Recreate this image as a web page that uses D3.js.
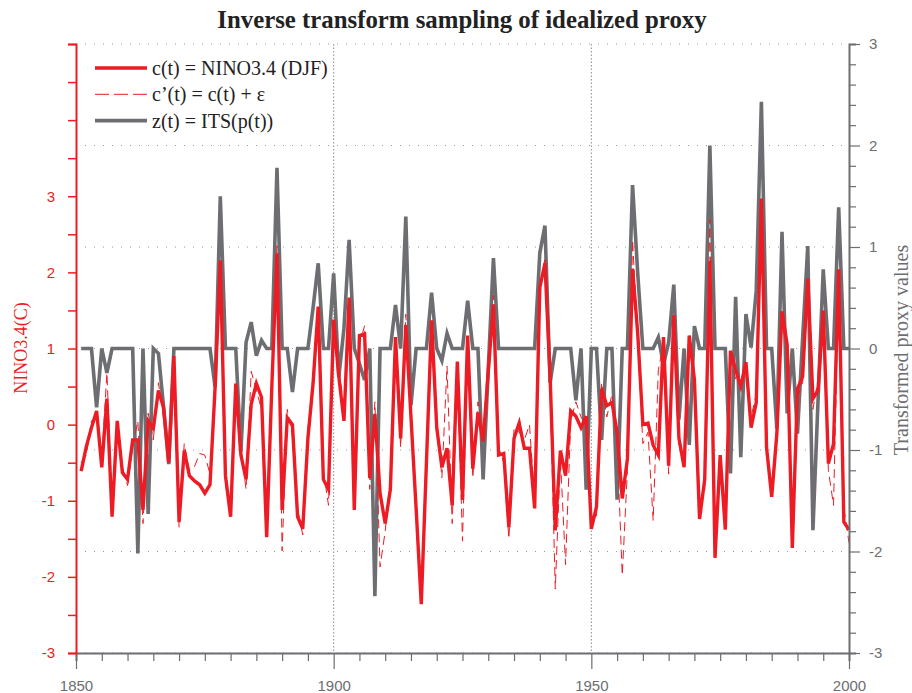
<!DOCTYPE html>
<html>
<head>
<meta charset="utf-8">
<script src="https://cdn.jsdelivr.net/npm/d3@7"></script>
<style>
  body { margin: 0; background: #fff; }
</style>
</head>
<body>
<svg id="chart" width="912" height="693"></svg>
<script>
// Annual values, 1851-2000
const firstYear = 1851;

// c(t): NINO3.4 DJF anomaly (degC)
const ninoDJF = [
  -0.61, -0.29, -0.04, 0.18, -0.56, 0.34, -1.21, 0.05, -0.63, -0.72,
  -0.20, -0.20, -1.12, 0.05, -0.05, 0.45, 0.22, -0.50, 0.90, -1.28,
  -0.34, -0.67, -0.74, -0.79, -0.90, -0.79, 0.50, 2.16, -0.67, -1.21,
  0.54, -0.40, -0.72, 0.27, 0.54, 0.36, -1.48, 0.50, 2.25, -1.12,
  0.09, 0.00, -1.21, -1.37, -0.18, 0.54, 1.55, -0.72, -0.85, 1.38,
  0.63, 0.05, 1.67, -1.12, 1.17, 1.19, -0.70, 0.14, -0.90, -1.30,
  -0.85, 1.15, -0.18, 1.31, 0.10, -1.10, -2.36, -0.50, 1.37, -0.04,
  -0.56, -0.31, -1.06, 0.83, -0.99, 1.17, -0.58, 0.16, -0.22, 0.70,
  1.58, -0.40, -0.38, -1.35, -0.18, 0.02, -0.31, -0.31, -1.10, 1.80,
  2.12, 0.63, -1.39, -0.34, -0.67, 0.18, 0.11, -0.04, 0.11, -1.37,
  -1.08, 0.47, 0.25, 0.29, -0.10, -0.97, -0.45, 2.05, 1.20, 0.00,
  0.02, -0.27, -0.40, 1.15, -0.54, 1.44, -0.18, -0.56, 1.17, 0.59,
  -1.24, -0.72, 2.15, -1.75, -0.40, -1.38, 0.97, 0.72, 0.50, 0.82,
  -0.04, 0.29, 2.97, -0.30, -0.95, -0.12, 1.49, 1.05, -1.62, 0.47,
  0.63, 1.92, 0.34, 0.45, 1.50, -0.51, -0.25, 2.04, -1.28, -1.38
];

// c'(t) = c(t) + noise
const ninoNoisy = [
  -0.50, -0.40, 0.05, 0.10, -0.45, 0.68, -1.05, -0.10, -0.55, -0.80,
  -0.30, 0.05, -1.30, 0.15, -0.20, 0.55, 0.10, -0.40, 0.80, -1.35,
  -0.25, -0.60, -0.55, -0.38, -0.40, -0.65, 0.35, 2.05, -0.80, -1.10,
  0.40, -0.30, -0.85, 0.70, 0.45, 0.20, -1.35, 0.60, 2.35, -1.66,
  0.20, -0.15, -1.10, -1.45, -0.05, 0.45, 1.50, -0.60, -1.06, 1.25,
  0.75, 0.20, 1.55, -1.00, 1.05, 1.30, -0.85, 0.30, -1.87, -1.40,
  -0.70, 1.05, -0.30, 1.45, 0.00, -1.00, -2.25, -0.40, 1.25, 0.10,
  -0.70, 0.77, -1.30, 0.70, -1.53, 1.05, -0.70, 0.30, -0.10, 0.60,
  1.70, -0.30, -0.50, -1.50, -0.05, -0.10, -0.20, 0.00, -1.00, 1.70,
  2.20, 0.50, -2.16, -0.45, -1.84, 0.05, 0.30, 0.10, 0.00, -1.25,
  -1.20, 0.55, 0.10, 0.40, -0.25, -1.98, -0.60, 2.43, 1.10, -0.25,
  -0.10, -1.26, 0.72, 1.05, -0.65, 1.30, -0.30, -0.45, 1.05, 0.70,
  -1.10, -0.85, 2.70, -1.60, -0.55, -1.30, 0.85, 0.60, 0.55, 0.65,
  0.10, 0.40, 2.85, -0.45, -0.80, -0.20, 1.35, 1.00, -1.50, 0.35,
  0.55, 1.75, 0.20, 0.60, 1.40, -0.60, -1.06, 1.95, -1.10, -1.55
];

// z(t) = ITS(p(t)): transformed proxy values
const proxyITS = [
  0, 0, 0, -0.58, 0, -0.24, 0, 0, 0, 0,
  0, -2.02, 0, -1.63, 0, -0.05, -0.58, -1.14, 0, 0,
  0, 0, 0, 0, 0, 0, -0.38, 1.50, 0, 0,
  0, -1.02, 0.06, 0.26, -0.07, 0.08, 0, 0, 1.78, 0,
  0, -0.43, 0, 0, 0, 0.40, 0.84, 0, 0, 0.74,
  -0.28, 0.20, 1.07, 0, -0.15, -0.31, 0, -2.44, 0, 0,
  0, 0.43, 0, 1.30, -0.56, 0, 0, 0, 0.55, 0,
  -0.12, 0.15, 0, 0, 0, 0.47, 0, 0, -1.29, -0.20,
  0.89, 0, 0, 0, 0, 0, 0, 0, 0, 0.94,
  1.21, -0.34, 0, 0, 0, 0, -0.51, 0, -1.39, 0,
  0, -0.90, 0, 0, -1.49, 0, 0, 1.61, 0.74, 0,
  0, 0, 0.11, -0.16, 0.06, 0.63, -0.70, 0, -0.95, 0.22,
  0, 0, 2.00, 0, 0, 0, -1.23, 0.51, -1.07, 0.34,
  0.01, 0.57, 2.43, 0, 0, -0.79, 1.15, -0.64, 0, -0.84,
  0.10, 1.01, -1.79, -0.50, 0.78, 0, 0, 1.39, 0, 0
];

const yearTickLabels = [1850, 1900, 1950, 2000];
const leftTickLabels = [-3, -2, -1, 0, 1, 2, 3];
const rightTickLabels = [-3, -2, -1, 0, 1, 2, 3];
const legendLabels = ["c(t) = NINO3.4 (DJF)", "c\u2019(t) = c(t) + \u03b5", "z(t) = ITS(p(t))"];

// ---- drawing ----
const RED = "#ed1c24";
const GREY = "#6d6e71";
const SERIF = "'Liberation Serif', 'Times New Roman', serif";
const SANS = "'Liberation Sans', Arial, sans-serif";

const svg = d3.select("#chart");
const plotLeft = 76, plotRight = 849, plotTop = 44, plotBottom = 653;

const x = d3.scaleLinear().domain([1850, 2000]).range([plotLeft, plotRight]);
const yL = d3.scaleLinear().domain([-3, 5]).range([plotBottom, plotTop]);
const yR = d3.scaleLinear().domain([-3, 3]).range([plotBottom, plotTop]);

const years = ninoDJF.map((_, i) => firstYear + i);

// grid: horizontal at right-axis integers, vertical at labelled years
const grid = svg.append("g");
grid.selectAll("line.h").data(rightTickLabels).join("line")
  .attr("x1", plotLeft).attr("x2", plotRight)
  .attr("y1", d => yR(d)).attr("y2", d => yR(d))
  .attr("stroke", "#9a9a9a").attr("stroke-width", 1)
  .attr("stroke-dasharray", "1,8");
grid.selectAll("line.v").data(yearTickLabels.slice(1, -1)).join("line")
  .attr("x1", d => x(d)).attr("x2", d => x(d))
  .attr("y1", plotTop).attr("y2", plotBottom)
  .attr("stroke", "#8a8a8a").attr("stroke-width", 1)
  .attr("stroke-dasharray", "1.5,2");

// series
const lineL = vals => d3.line().x((d, i) => x(years[i])).y(d => yL(d))(vals);
const lineR = vals => d3.line().x((d, i) => x(years[i])).y(d => yR(d))(vals);

svg.append("path").attr("d", lineR(proxyITS))
  .attr("fill", "none").attr("stroke", GREY).attr("stroke-width", 3.6)
  .attr("stroke-linejoin", "miter");
svg.append("path").attr("d", lineL(ninoNoisy))
  .attr("fill", "none").attr("stroke", RED).attr("stroke-width", 1)
  .attr("stroke-dasharray", "9,5");
svg.append("path").attr("d", lineL(ninoDJF))
  .attr("fill", "none").attr("stroke", RED).attr("stroke-width", 3.4)
  .attr("stroke-linejoin", "miter");

// bottom axis
const xAxis = d3.axisBottom(x).tickValues(d3.range(1850, 2001, 5))
  .tickSize(8).tickFormat(d => yearTickLabels.includes(d) ? d : "");
const gx = svg.append("g").attr("transform", `translate(0,${plotBottom})`).call(xAxis);
gx.select(".domain").attr("stroke", GREY).attr("stroke-width", 2);
gx.selectAll(".tick line").attr("stroke", GREY).attr("stroke-width", 1.2)
  .attr("y2", d => yearTickLabels.includes(d) ? 16 : 8);
gx.selectAll(".tick text").attr("fill", GREY).attr("font-family", SANS)
  .attr("font-size", 15).attr("y", 27);

// left axis (red)
const leftAxis = d3.axisLeft(yL).tickValues(d3.range(-3, 5.01, 0.5))
  .tickSize(8).tickFormat(d => leftTickLabels.includes(d) ? d : "");
const gl = svg.append("g").attr("transform", `translate(${plotLeft},0)`).call(leftAxis);
gl.select(".domain").attr("stroke", RED).attr("stroke-width", 2);
gl.selectAll(".tick line").attr("stroke", RED).attr("stroke-width", 1.5);
gl.selectAll(".tick text").attr("fill", RED).attr("font-family", SANS)
  .attr("font-size", 15).attr("x", -21);

// right axis (grey)
const rightAxis = d3.axisRight(yR).tickValues(d3.range(-3, 3.001, 0.2).map(v => Math.round(v * 10) / 10))
  .tickSize(7).tickFormat(d => rightTickLabels.includes(d) ? d : "");
const gr = svg.append("g").attr("transform", `translate(${plotRight},0)`).call(rightAxis);
gr.select(".domain").attr("stroke", GREY).attr("stroke-width", 2);
gr.selectAll(".tick line").attr("stroke", GREY).attr("stroke-width", 1.2)
  .attr("x2", d => rightTickLabels.includes(d) ? 11 : 7);
gr.selectAll(".tick text").attr("fill", GREY).attr("font-family", SANS)
  .attr("font-size", 15).attr("x", 20);

// titles
svg.append("text").attr("x", 462).attr("y", 28).attr("text-anchor", "middle")
  .attr("font-family", SERIF).attr("font-weight", "bold").attr("font-size", 24.8)
  .attr("fill", "#222").text("Inverse transform sampling of idealized proxy");
svg.append("text").attr("transform", `translate(27,348) rotate(-90)`)
  .attr("text-anchor", "middle").attr("font-family", SERIF).attr("font-size", 18)
  .attr("fill", RED).text("NINO3.4(C)");
svg.append("text").attr("transform", `translate(908,350) rotate(-90)`)
  .attr("text-anchor", "middle").attr("font-family", SERIF).attr("font-size", 20)
  .attr("fill", GREY).text("Transformed proxy values");

// legend
const legend = svg.append("g");
const legendStyles = [
  { stroke: RED, width: 3.6, dash: null },
  { stroke: RED, width: 1, dash: "14,5" },
  { stroke: GREY, width: 3.6, dash: null }
];
legendLabels.forEach((lab, i) => {
  const yy = 68 + i * 26.3;
  legend.append("line").attr("x1", 95).attr("x2", 147).attr("y1", yy).attr("y2", yy)
    .attr("stroke", legendStyles[i].stroke).attr("stroke-width", legendStyles[i].width)
    .attr("stroke-dasharray", legendStyles[i].dash);
  legend.append("text").attr("x", 152).attr("y", yy + 7)
    .attr("font-family", SERIF).attr("font-size", 20).attr("fill", "#222").text(lab);
});
</script>
</body>
</html>
